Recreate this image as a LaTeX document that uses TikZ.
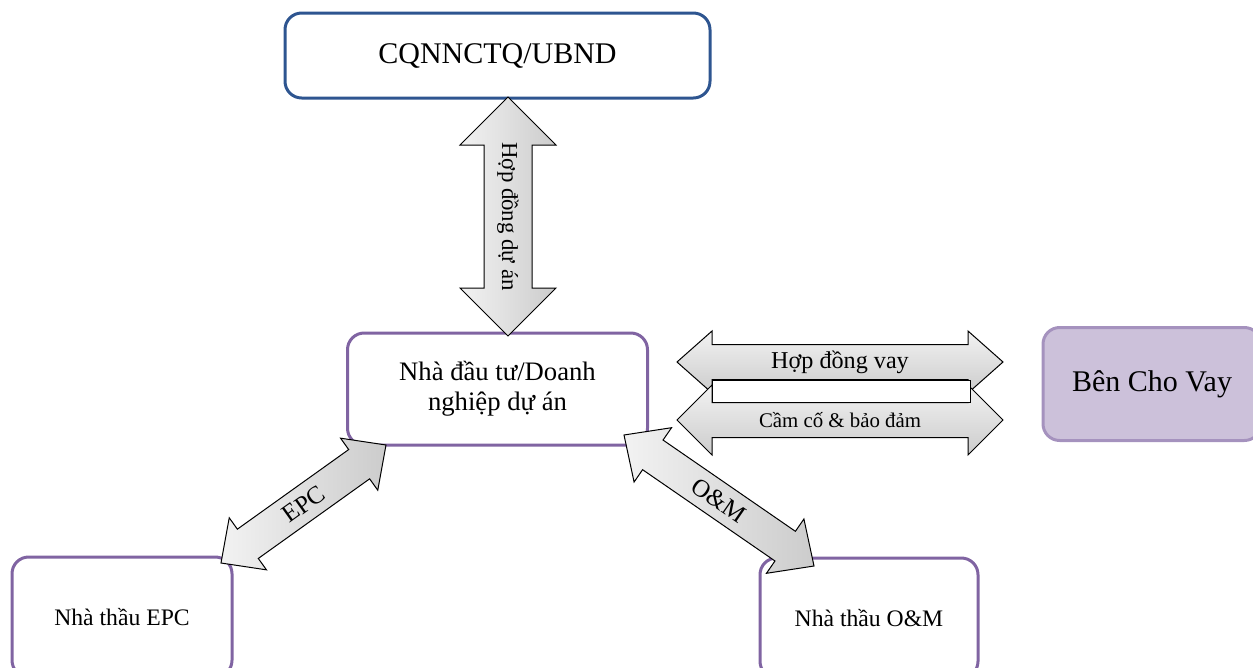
\documentclass[tikz,border=0pt]{standalone}
\usepackage{fontspec}
\setmainfont{Liberation Serif}
\usetikzlibrary{calc}
\definecolor{boxblue}{HTML}{2E5590}
\definecolor{boxpurple}{HTML}{8064A2}
\definecolor{lenderfill}{HTML}{CCC1DA}
\definecolor{lenderdraw}{HTML}{A592BE}
% #1 tip A, #2 tip B, #3 half head width, #4 half shaft width, #5 head length, #6 style
\newcommand\dblarr[6]{%
  \path ($(#1)!#5!(#2)$) coordinate (bA) ($(#2)!#5!(#1)$) coordinate (bB);
  \path[#6] (#1) -- ($(bA)!#3!90:(#2)$) -- ($(bA)!#4!90:(#2)$)
    -- ($(bB)!#4!-90:(#1)$) -- ($(bB)!#3!-90:(#1)$) -- (#2)
    -- ($(bB)!#3!90:(#1)$) -- ($(bB)!#4!90:(#1)$)
    -- ($(bA)!#4!-90:(#2)$) -- ($(bA)!#3!-90:(#2)$) -- cycle;
}
\begin{document}
\begin{tikzpicture}[x=0.6pt,y=-0.6pt,
  box/.style={draw=boxpurple, line width=1.8pt, rounded corners=10pt, fill=white,
    align=center, inner sep=0pt},
  arrv/.style={draw=black, line width=0.6pt, left color=gray!10, right color=gray!40},
  arrh/.style={draw=black, line width=0.6pt, top color=gray!10, bottom color=gray!40},
  lbl/.style={inner sep=0pt}]
\useasboundingbox (0,0) rectangle (1253,667);
\begin{scope}
\clip (0,0) rectangle (1253,667);
% boxes
\node[box, draw=boxblue, minimum width=255pt, minimum height=51pt,
  font=\fontsize{18}{22}\selectfont] (cq) at (497.5,55.5) {CQNNCTQ/UBND};
\node[box, minimum width=180pt, minimum height=67.2pt,
  font=\fontsize{16}{18}\selectfont] (nd) at (497.5,389) {Nhà đầu tư/Doanh\\nghiệp dự án};
\node[box, minimum width=132pt, minimum height=72pt,
  font=\fontsize{14.2}{16}\selectfont] (epc) at (122,617) {Nhà thầu EPC};
\node[box, minimum width=130.8pt, minimum height=72pt,
  font=\fontsize{14.2}{16}\selectfont] (om) at (869,618) {Nhà thầu O\&M};
\node[box, draw=lenderdraw, fill=lenderfill, minimum width=130.8pt, minimum height=67.8pt,
  font=\fontsize{18}{22}\selectfont] (bcv) at (1152,384) {Bên Cho Vay};
% arrow end points
\coordinate (v1) at (508,97);   \coordinate (v2) at (508,336);
\coordinate (h1a) at (677,362); \coordinate (h1b) at (1003,362);
\coordinate (h2a) at (677,420); \coordinate (h2b) at (1003,420);
\coordinate (e1) at (221,563);  \coordinate (e2) at (386,445);
\coordinate (o1) at (624,435);  \coordinate (o2) at (814,566);
% arrows
\dblarr{v1}{v2}{28.8pt}{14.4pt}{28.8pt}{arrv}
\node[lbl, rotate=-90, font=\fontsize{13.7}{15}\selectfont] (lv) at ($(v1)!0.5!(v2)$) {Hợp đồng dự án};
\dblarr{h1a}{h1b}{18.6pt}{10.5pt}{21pt}{arrh}
\node[lbl, font=\fontsize{14.5}{17}\selectfont] (lh1) at ($(h1a)!0.5!(h1b)$) {Hợp đồng vay};
\dblarr{h2a}{h2b}{21pt}{10.5pt}{21pt}{arrh}
\draw[line width=0.6pt, fill=white] (712,380) rectangle (970,402);
\node[lbl, font=\fontsize{12.5}{15}\selectfont] (lh2) at ($(h2a)!0.5!(h2b)$) {Cầm cố \& bảo đảm};
\dblarr{e1}{e2}{19.2pt}{10.8pt}{19.8pt}{arrv}
\path (e1) -- (e2) node[lbl, midway, sloped, font=\fontsize{15}{17}\selectfont] (le) {EPC};
\dblarr{o1}{o2}{19.8pt}{10.8pt}{21pt}{arrv}
\path (o1) -- (o2) node[lbl, midway, sloped, font=\fontsize{15}{17}\selectfont] (lo) {O\&M};
\end{scope}
\end{tikzpicture}
\end{document}
